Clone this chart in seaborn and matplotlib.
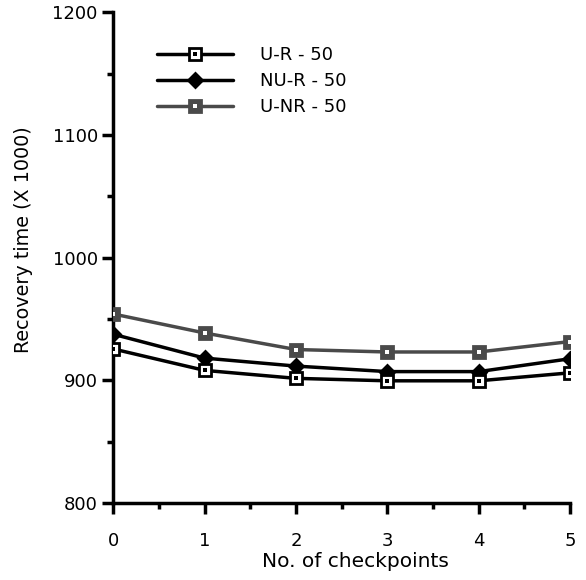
import matplotlib
matplotlib.use("Agg")
import matplotlib.pyplot as plt
from matplotlib.lines import Line2D
from matplotlib.legend_handler import HandlerTuple
import seaborn as sns
import pandas as pd

checkpoints = [0, 1, 2, 3, 4, 5]
u_r_50 = [925.5, 908, 901.5, 899.5, 899.5, 906]
nu_r_50 = [937.5, 918, 911.5, 907, 907, 917.5]
u_nr_50 = [954, 938.5, 925, 923, 923, 931.5]
series_names = ["U-R - 50", "NU-R - 50", "U-NR - 50"]

sns.set_theme(style="white")
plt.rcParams["font.family"] = ["DejaVu Sans"]
plt.rcParams["text.color"] = "black"
plt.rcParams["axes.labelcolor"] = "black"

df = pd.DataFrame({
    "x": checkpoints * 3,
    "y": u_r_50 + nu_r_50 + u_nr_50,
    "series": sum([[n] * len(checkpoints) for n in series_names], []),
})

styles = {
    "U-R - 50": dict(color="black", marker="s", mfc="white", mec="black", ms=8, dot="black"),
    "NU-R - 50": dict(color="black", marker="D", mfc="black", mec="black", ms=7.5, dot=None),
    "U-NR - 50": dict(color="#4a4a4a", marker="s", mfc="#4a4a4a", mec="#4a4a4a", ms=8, dot="white"),
}
DOT_MS = 2.6

fig = plt.figure(figsize=(5.86, 5.80), dpi=100)
ax = fig.add_axes([0.193, 0.133, 0.78, 0.846])

for name in series_names[::-1]:
    st = styles[name]
    sub = df[df["series"] == name]
    sns.lineplot(data=sub, x="x", y="y", ax=ax, color=st["color"], lw=2.5,
                 marker=st["marker"], markersize=st["ms"],
                 markerfacecolor=st["mfc"], markeredgecolor=st["mec"],
                 markeredgewidth=2.0, legend=False, zorder=3)
    if st["dot"] is not None:
        ax.plot(sub["x"].to_numpy(), sub["y"].to_numpy(), ls="none", marker="s",
                ms=DOT_MS, mfc=st["dot"], mec=st["dot"], mew=0, zorder=5)

handles = []
for name in series_names:
    st = styles[name]
    base = Line2D([], [], color=st["color"], lw=2.5, marker=st["marker"],
                  ms=st["ms"], mfc=st["mfc"], mec=st["mec"], mew=2.0)
    if st["dot"] is not None:
        dot = Line2D([], [], ls="none", marker="s", ms=DOT_MS, mfc=st["dot"],
                     mec=st["dot"], mew=0)
        handles.append((base, dot))
    else:
        handles.append(base)

ax.legend(handles, series_names, handler_map={tuple: HandlerTuple(ndivide=1, pad=0)},
          loc="upper left", bbox_to_anchor=(0.096, 0.931), frameon=False,
          fontsize=13, handlelength=4.2, handletextpad=1.5, labelspacing=0.45,
          borderaxespad=0, borderpad=0, numpoints=1, labelcolor="black")

ax.set_xlim(0, 5)
ax.set_ylim(800, 1200)
ax.set_xticks(checkpoints)
ax.set_xticks([0.5, 1.5, 2.5, 3.5, 4.5], minor=True)
ax.set_yticks([800, 900, 1000, 1100, 1200])
ax.set_yticks([850, 950, 1050, 1150], minor=True)

for s in ["top", "right"]:
    ax.spines[s].set_visible(False)
for s in ["left", "bottom"]:
    ax.spines[s].set_linewidth(2.5)
    ax.spines[s].set_color("black")

ax.tick_params(axis="both", which="major", direction="out", length=8, width=2.5,
               labelsize=13, colors="black", bottom=True, left=True)
ax.tick_params(axis="both", which="minor", direction="out", length=4, width=2.5,
               colors="black", bottom=True, left=True)
ax.tick_params(axis="y", which="major", pad=3)
ax.tick_params(axis="x", which="major", pad=13)

ax.set_xlabel("No. of checkpoints", fontsize=14.5)
ax.set_ylabel("Recovery time (X 1000)", fontsize=13.8)
ax.xaxis.set_label_coords(0.53, -0.1)
ax.yaxis.set_label_coords(-0.175, 0.536)
ax.grid(False)

fig.savefig("out.png", dpi=100)
